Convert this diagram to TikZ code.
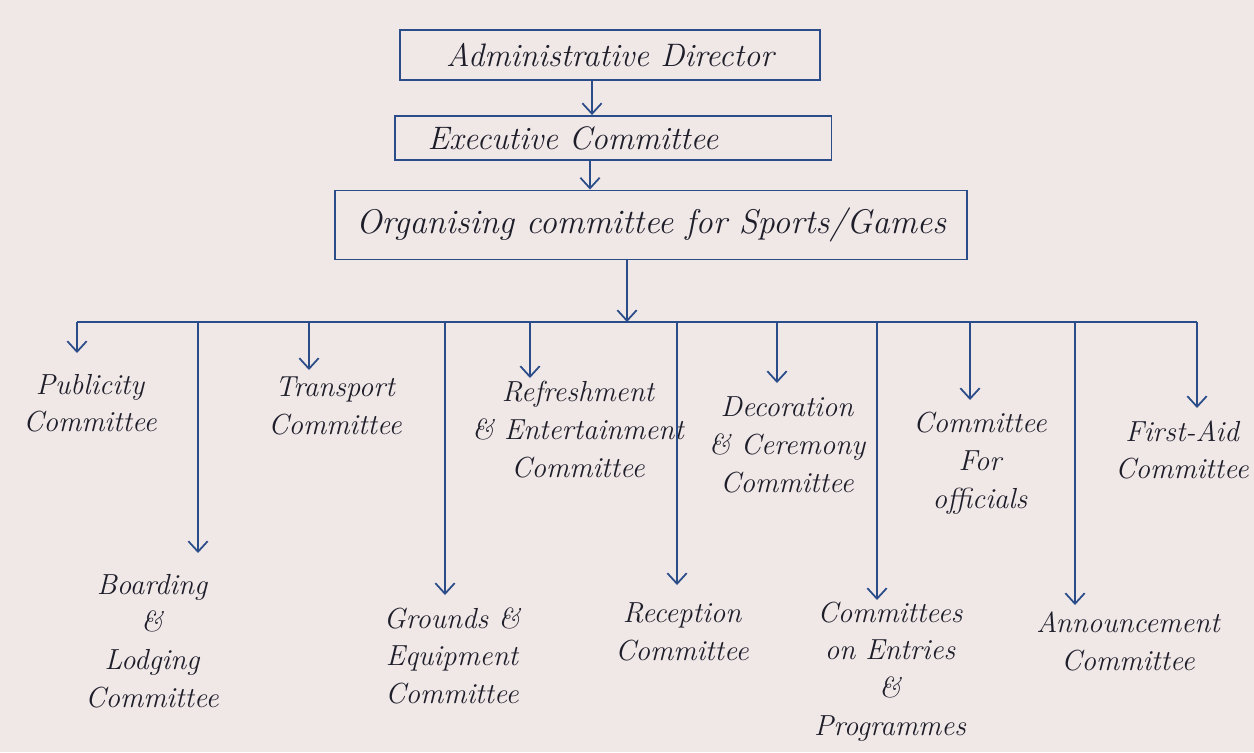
\documentclass[tikz,border=0pt]{standalone}
\usetikzlibrary{arrows.meta}
\definecolor{paper}{RGB}{240,231,231}
\definecolor{ink}{RGB}{42,76,136}
\definecolor{pen}{RGB}{30,30,42}
\begin{document}
\begin{tikzpicture}[x=0.02cm,y=-0.02cm,
  wire/.style={draw=ink, line width=1.1pt},
  arr/.style={wire, -{Straight Barb[length=6pt,width=11pt,line width=1pt]}},
  boxnode/.style={draw=ink, line width=1.1pt, text=pen, font=\fontsize{18.5}{22}\selectfont\itshape, inner sep=0pt},
  lbl/.style={text=pen, font=\fontsize{16.5}{21.5}\selectfont\itshape, align=center, anchor=north, inner sep=0pt, outer sep=4pt}]
\fill[paper] (0,0) rectangle (1254,752);
\useasboundingbox (0,0) rectangle (1254,752);

% top boxes
\node[boxnode, minimum width=8.4cm, minimum height=1cm] (ad) at (610,55) {Administrative Director};
\node[boxnode, minimum width=8.74cm, minimum height=0.88cm, text width=7.42cm, inner xsep=0.66cm, align=left] (ec) at (613,138) {Executive Committee};
\node[boxnode, minimum width=12.66cm, minimum height=1.38cm, font=\fontsize{19.5}{23}\selectfont\itshape] (og) at (651,225) {Organising committee for Sports/Games};

\coordinate (x1) at (592,0);
\coordinate (x2) at (590,0);
\draw[arr] (ad.south -| x1) -- (ec.north -| x1);
\draw[arr] (ec.south -| x2) -- (og.north -| x2);

% bus
\coordinate (bus) at (627,322);
\coordinate (b1) at (77,322);
\coordinate (b2) at (198,322);
\coordinate (b3) at (309,322);
\coordinate (b4) at (445,322);
\coordinate (b5) at (530,322);
\coordinate (b6) at (677,322);
\coordinate (b7) at (777,322);
\coordinate (b8) at (877,322);
\coordinate (b9) at (970,322);
\coordinate (b10) at (1075,322);
\coordinate (b11) at (1197,322);
\draw[wire] (b1) -- (b11);
\draw[arr] (og.south -| bus) -- (bus);

% labels
\node[lbl, outer sep=12pt] (l1) at (90,353) {Publicity\\Committee};
\node[lbl, outer sep=12pt] (l2) at (152,553) {Boarding\\\&\\Lodging\\Committee};
\node[lbl, outer sep=4pt] (l3) at (335,370) {Transport\\Committee};
\node[lbl, outer sep=7pt] (l4) at (452,595) {Grounds \&\\Equipment\\Committee};
\node[lbl, outer sep=2pt] (l5) at (578,378) {Refreshment\\\& Entertainment\\Committee};
\node[lbl, outer sep=10pt] (l6) at (682,585) {Reception\\Committee};
\node[lbl, outer sep=8pt] (l7) at (787,383) {Decoration\\\& Ceremony\\Committee};
\node[lbl, outer sep=1pt] (l8) at (890,600) {Committees\\on Entries\\\&\\Programmes};
\node[lbl, outer sep=7pt] (l9) at (980,400) {Committee\\For\\officials};
\node[lbl, outer sep=4pt] (l10) at (1128,605) {Announcement\\Committee};
\node[lbl, outer sep=7pt] (l11) at (1182,408) {First-Aid\\Committee};

\foreach \i in {1,...,11}{
  \draw[arr] (b\i) -- (b\i |- l\i.north);
}
\end{tikzpicture}
\end{document}
